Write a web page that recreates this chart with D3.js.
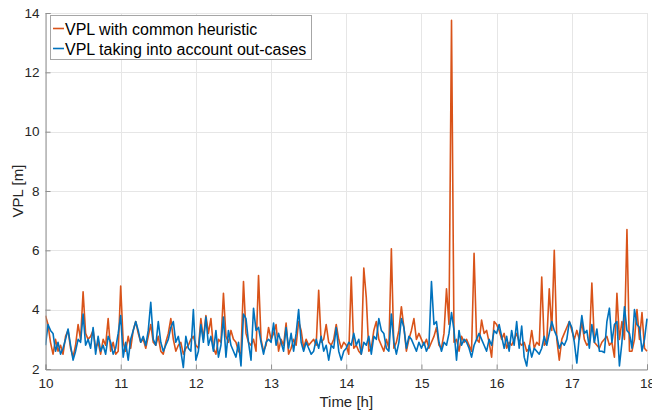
<!DOCTYPE html>
<html><head><meta charset="utf-8">
<script src="https://cdn.jsdelivr.net/npm/d3@7"></script>
<style>html,body{margin:0;padding:0;background:#fff;}svg{display:block;font-family:"Liberation Sans",Arial,Helvetica,sans-serif;}</style>
</head><body><svg id="c" width="652" height="416"></svg>
<script>
const seriesNames = ["VPL with common heuristic", "VPL taking into account out-cases"];
const seriesColors = ["#D95319", "#0072BD"];
const xTicks = [10, 11, 12, 13, 14, 15, 16, 17, 18];
const yTicks = [2, 4, 6, 8, 10, 12, 14];
const startHour = 10, samplesPerHour = 30;
const vplCommon = [
3.8,3.5,2.9,2.5,3.0,2.6,2.8,2.5,3.1,3.3,2.7,2.4,2.8,3.5,3.0,4.6,3.2,3.0,3.1,3.3,2.7,2.9,2.5,3.0,2.8,3.7,2.6,2.9,2.5,2.6,
4.8,2.9,2.6,3.1,2.7,3.3,3.6,3.2,2.9,3.0,2.7,3.1,3.5,2.9,2.8,3.1,2.6,2.5,2.9,3.2,3.7,3.0,2.6,2.8,2.9,2.5,2.7,2.8,3.0,3.1,
2.8,2.7,3.7,3.0,3.8,3.2,3.7,2.7,2.5,3.0,2.9,4.55,3.1,2.9,3.3,3.0,2.9,2.6,2.5,4.95,3.2,2.9,2.8,3.0,2.6,5.15,3.0,2.6,2.8,3.4,
3.0,3.2,3.5,2.6,3.0,2.8,3.55,2.5,2.7,3.0,2.8,3.6,3.3,2.7,3.0,2.8,2.9,3.0,2.8,4.65,2.9,3.0,3.5,2.9,2.8,3.0,3.5,3.0,2.7,2.9,
2.8,2.5,5.1,2.7,2.8,2.6,2.5,5.4,4.4,2.6,2.7,3.3,3.6,3.0,2.8,2.6,3.0,2.7,6.05,2.7,2.9,3.3,4.1,3.4,2.6,3.0,3.3,3.7,3.0,3.2,
3.0,2.8,3.0,2.7,2.9,3.1,3.4,2.8,2.7,3.2,4.7,3.5,13.75,2.9,3.0,2.6,3.1,2.9,3.0,2.8,2.6,5.9,3.0,2.9,3.65,3.2,3.3,2.9,2.4,3.6,
3.5,3.3,3.0,3.2,2.7,2.9,2.8,3.0,3.2,2.9,2.8,2.9,2.6,2.7,3.3,2.7,2.9,2.8,5.1,2.8,2.9,4.7,3.3,6.0,3.0,2.3,3.0,3.2,3.4,3.6,
3.3,3.0,3.3,3.0,3.6,3.0,2.8,2.9,4.9,2.9,2.8,2.7,2.9,3.0,3.1,2.8,2.9,2.4,4.55,3.0,3.6,3.0,6.7,2.6,2.6,3.0,4.0,3.0,3.9,2.7,2.6
];
const vplOutCases = [
2.8,3.5,3.3,3.2,2.6,2.9,2.5,2.7,3.0,3.35,2.8,2.3,2.6,3.0,2.9,3.85,2.8,3.0,2.7,3.4,2.5,3.1,2.6,2.8,2.5,3.1,2.9,2.5,2.7,3.2,
3.8,2.4,2.9,2.3,3.0,3.3,3.6,3.3,2.9,3.1,2.8,3.3,4.25,3.0,2.8,3.6,2.9,2.6,2.8,3.0,3.4,3.6,2.9,3.1,2.6,2.05,3.1,2.7,2.6,4.0,
2.3,2.6,3.5,2.9,3.75,2.8,3.1,2.6,3.3,2.4,2.8,3.75,2.4,3.3,2.8,2.6,2.4,2.9,2.1,3.85,3.7,2.9,2.3,4.05,3.3,3.4,2.9,2.5,2.9,3.0,
2.9,3.55,2.8,3.2,2.9,2.6,3.4,2.7,3.2,2.6,3.2,4.0,2.9,2.6,2.9,2.7,2.5,2.6,3.0,2.7,3.1,2.6,2.8,2.3,2.8,2.7,3.4,2.6,2.3,2.6,
2.7,2.9,2.8,3.2,2.8,3.0,2.5,2.9,2.8,3.1,2.5,3.1,3.0,3.7,3.3,3.2,2.7,2.6,3.85,2.9,2.5,2.9,3.7,3.4,2.7,3.1,3.0,2.8,2.6,2.9,
2.7,2.9,2.6,2.8,4.95,3.5,3.6,2.9,2.6,2.9,2.8,3.2,3.9,3.3,2.3,3.3,2.8,3.0,2.9,2.7,2.4,2.8,3.0,3.2,3.0,2.8,2.6,3.0,2.8,3.3,
3.2,3.5,3.1,2.7,3.1,2.6,3.3,2.8,3.6,2.7,3.45,2.4,2.1,2.8,2.4,2.7,2.6,2.5,2.7,3.1,2.8,3.2,3.6,3.3,3.1,2.7,2.9,2.8,3.0,3.6,
3.4,2.9,2.2,3.1,3.8,3.2,3.3,2.7,3.5,2.9,3.35,2.6,2.6,2.55,3.6,4.05,2.9,3.5,3.6,2.1,2.9,4.1,3.3,3.2,2.7,4.0,3.5,3.4,2.6,3.0,3.7
];

const svg = d3.select("#c");
const L = 45.5, R = 647, T = 13, B = 369;
const x = d3.scaleLinear().domain([10, 18]).range([L, R]);
const y = d3.scaleLinear().domain([2, 14]).range([B, T]);
const tOf = i => startHour + i / samplesPerHour;

// grid
const g = svg.append("g");
g.selectAll(".gx").data(xTicks).enter().append("line")
  .attr("x1", d => Math.round(x(d)) + 0.5).attr("x2", d => Math.round(x(d)) + 0.5)
  .attr("y1", T).attr("y2", B).attr("stroke", "#e6e6e6").attr("stroke-width", 1);
g.selectAll(".gy").data(yTicks).enter().append("line")
  .attr("y1", d => Math.round(y(d)) + 0.5).attr("y2", d => Math.round(y(d)) + 0.5)
  .attr("x1", L).attr("x2", R).attr("stroke", "#e6e6e6").attr("stroke-width", 1);

// lines
const line = d3.line().x((d, i) => x(tOf(i))).y(d => y(d));
const clip = svg.append("defs").append("clipPath").attr("id", "pc").append("rect")
  .attr("x", L).attr("y", T - 2).attr("width", R - L + 1).attr("height", B - T + 2);
const pg = svg.append("g").attr("clip-path", "url(#pc)");
[vplCommon, vplOutCases].forEach((s, k) => {
  pg.append("path").datum(s).attr("d", line).attr("fill", "none")
    .attr("stroke", seriesColors[k]).attr("stroke-width", 1.6).attr("stroke-linejoin", "round");
});

// axes
const xa = svg.append("g").attr("transform", `translate(0,${B + 0.5})`)
  .call(d3.axisBottom(x).tickValues(xTicks).tickSize(-5).tickPadding(9).tickFormat(d3.format("d")));
const ya = svg.append("g").attr("transform", `translate(${L},0)`)
  .call(d3.axisLeft(y).tickValues(yTicks).tickSize(-5).tickPadding(6).tickFormat(d3.format("d")));
[xa, ya].forEach(a => {
  a.select(".domain").attr("stroke", "#8f8f8f");
  a.selectAll(".tick line").attr("stroke", "#8f8f8f");
  a.selectAll("text").attr("fill", "#262626").style("font-size", "13.5px").style("font-family", "'Liberation Sans',Arial,sans-serif");
});

svg.append("text").attr("x", (L + R) / 2).attr("y", 406.5).attr("text-anchor", "middle")
  .attr("fill", "#262626").style("font-size", "15px").text("Time [h]");
svg.append("text").attr("transform", `translate(23,${(T + B) / 2}) rotate(-90)`).attr("text-anchor", "middle")
  .attr("fill", "#262626").style("font-size", "15px").text("VPL [m]");

// legend
const lg = svg.append("g");
lg.append("rect").attr("x", 50.5).attr("y", 15.5).attr("width", 261).attr("height", 44)
  .attr("fill", "#fff").attr("stroke", "#a6a6a6").attr("stroke-width", 1);
seriesNames.forEach((n, k) => {
  const yy = 28.5 + k * 20;
  lg.append("line").attr("x1", 53).attr("x2", 64).attr("y1", yy).attr("y2", yy)
    .attr("stroke", seriesColors[k]).attr("stroke-width", 1.6);
  lg.append("text").attr("x", 65).attr("y", yy + 6).attr("fill", "#000")
    .style("font-size", "16px").text(n);
});
</script></body></html>
